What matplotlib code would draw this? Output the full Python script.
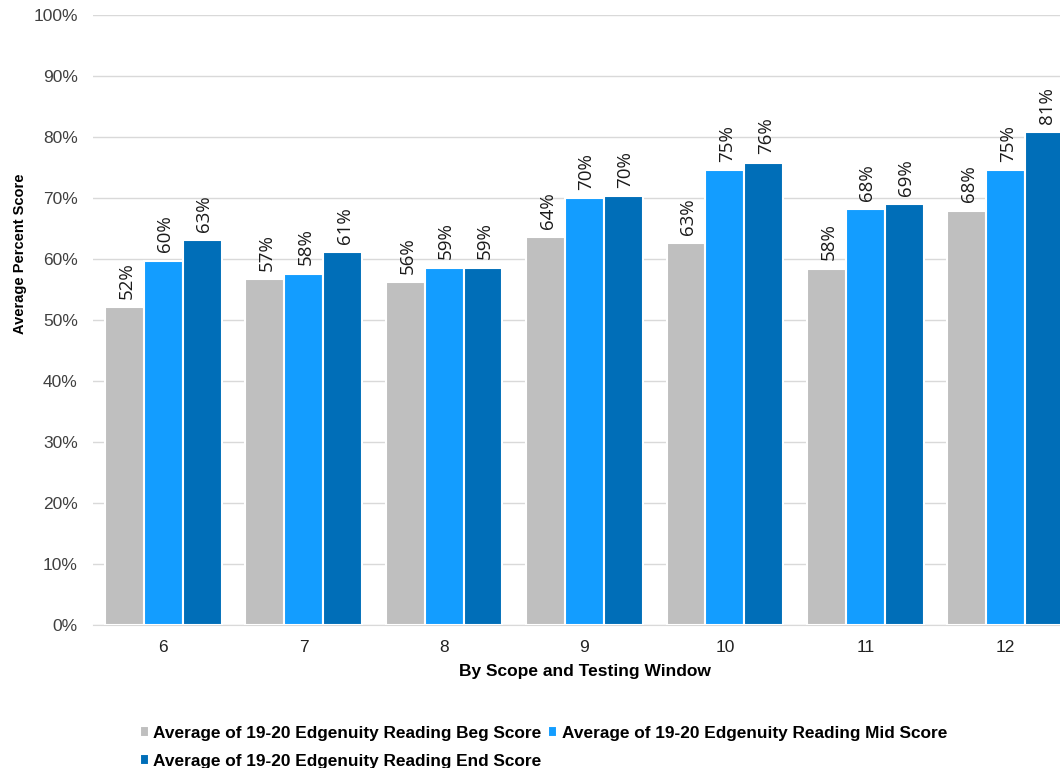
import numpy as np
import matplotlib
matplotlib.use("Agg")
import matplotlib.pyplot as plt

plt.rcParams['font.family'] = ['Liberation Sans', 'DejaVu Sans']

# datos
grades = ["6", "7", "8", "9", "10", "11", "12"]
beg_score = [52.1, 56.7, 56.2, 63.6, 62.6, 58.4, 67.9]
mid_score = [59.7, 57.6, 58.6, 70.0, 74.6, 68.2, 74.6]
end_score = [63.1, 61.1, 58.6, 70.3, 75.8, 69.0, 80.8]
series_names = ["Average of 19-20 Edgenuity Reading Beg Score",
                "Average of 19-20 Edgenuity Reading Mid Score",
                "Average of 19-20 Edgenuity Reading End Score"]
colors = ["#BFBFBF", "#139DFF", "#006EB8"]

fig = plt.figure(figsize=(10.6, 7.68), dpi=100)
ax = fig.add_axes([93 / 1060, 1 - 625 / 768, (1076 - 93) / 1060, (625 - 15) / 768])

x = np.arange(len(grades))
w = 0.277
handles = []
for i, (vals, name, c) in enumerate(zip([beg_score, mid_score, end_score], series_names, colors)):
    pos = x + (i - 1) * w
    bars = ax.bar(pos, vals, width=w, color=c, edgecolor="white", linewidth=1.5, label=name, zorder=3)
    handles.append(bars)
    for p, v in zip(pos, vals):
        ax.annotate(f"{v:.0f}%", (p, v), xytext=(1.5, 6), textcoords="offset points",
                    rotation=90, ha="center", va="bottom", fontsize=13.5,
                    family=["Open Sans", "DejaVu Sans"], color="#1a1a1a", zorder=4)

ax.set_xlim(-0.5, len(grades) - 0.5)
ax.set_ylim(0, 100)
ax.set_yticks(np.arange(0, 101, 10))
ax.set_yticklabels([f"{t}%" for t in range(0, 101, 10)], fontsize=12.5, color="#404040")
ax.set_xticks(x)
ax.set_xticklabels(grades, fontsize=12.5, color="#222222")
ax.tick_params(axis="y", length=0, pad=11)
ax.tick_params(axis="x", length=0, pad=11)
ax.grid(axis="y", color="#D9D9D9", linewidth=1, zorder=0)
for s in ["top", "right", "left"]:
    ax.spines[s].set_visible(False)
ax.spines["bottom"].set_color("#D9D9D9")

ax.set_ylabel("Average Percent Score", fontsize=10.5, fontweight="bold")
ax.yaxis.set_label_coords(-0.067, 0.608)
ax.set_xlabel("By Scope and Testing Window", fontsize=12.5, fontweight="bold", labelpad=6)

leg = fig.legend([handles[0], handles[2], handles[1]],
                 [series_names[0], series_names[2], series_names[1]],
                 ncol=2, loc="upper left", bbox_to_anchor=(124 / 1060, 1 - 710 / 768),
                 frameon=False, handlelength=0.55, handleheight=0.55,
                 handletextpad=0.25, columnspacing=0.35, labelspacing=0.75,
                 prop={"weight": "bold", "size": 12.45})

fig.savefig("out.png", dpi=100)
